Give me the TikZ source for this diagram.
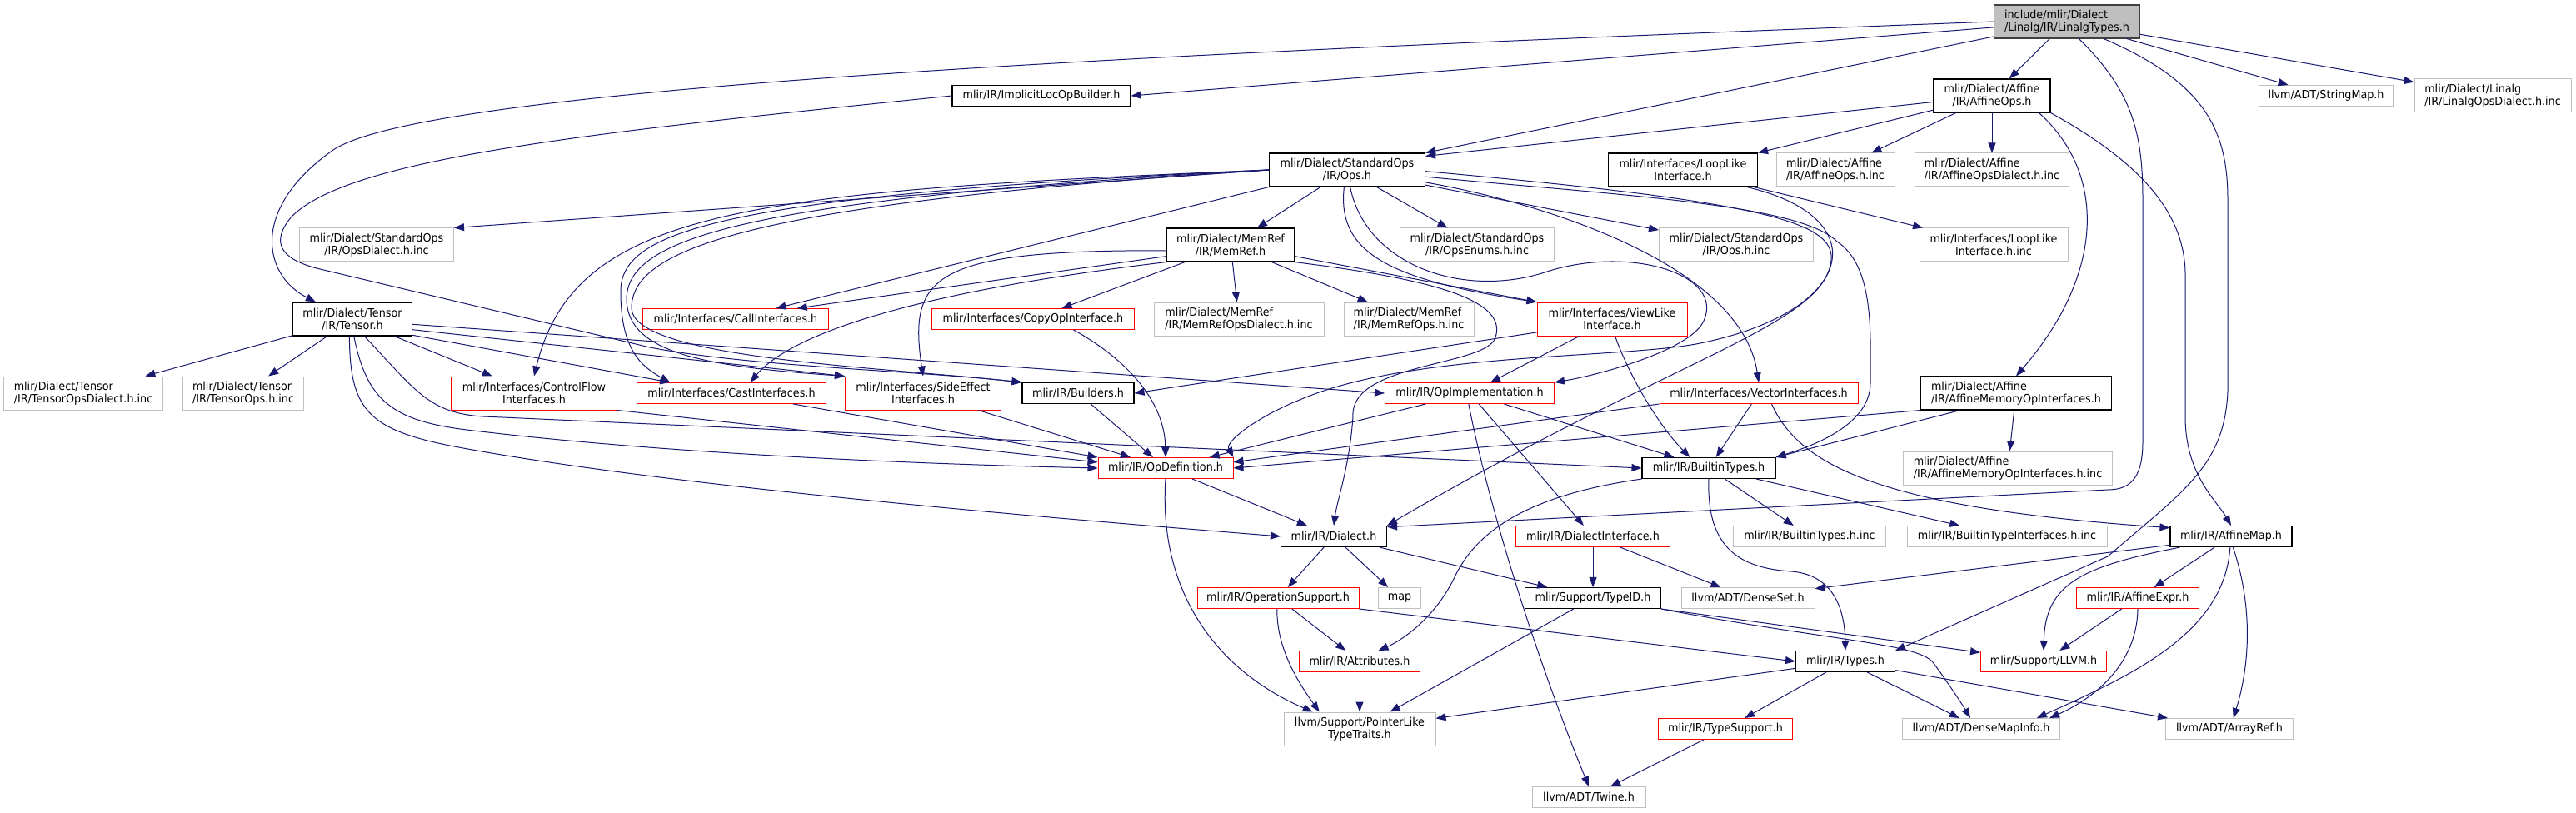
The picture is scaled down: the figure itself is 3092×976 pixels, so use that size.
\documentclass[tikz,border=0pt]{standalone}
\usepackage{fontspec}
\setmainfont{DejaVu Sans}[FakeStretch=0.93]
\usetikzlibrary{arrows.meta}
\definecolor{edgeblue}{RGB}{25,25,112}
\definecolor{leafgray}{RGB}{191,191,191}
\definecolor{cutred}{RGB}{255,0,0}

\begin{document}
\begin{tikzpicture}[
  x=1pt, y=-1pt,
  font=\fontsize{13.7}{15}\selectfont,
  box/.style={draw, rectangle, inner sep=0pt, align=center, minimum height=25pt},
  two/.style={minimum height=40pt},
  leaf/.style={box, draw=leafgray, line width=1pt},
  cut/.style={box, draw=cutred, line width=1pt},
  full/.style={box, draw=black, line width=1.1pt},
  arrow/.style={-{Triangle[length=12pt, width=9pt]}, edgeblue, line width=1pt}
]
\useasboundingbox (0,0) rectangle (3092,976);
\node[full, two, fill=leafgray, draw=black!75, align=left, minimum width=175pt] (root) at (2481, 26) {include/mlir/Dialect\\/Linalg/IR/LinalgTypes.h};
\node[full, two, minimum width=140pt] (affops) at (2391, 115) {mlir/Dialect/Affine\\/IR/AffineOps.h};
\node[leaf, minimum width=161pt] (strmap) at (2792, 115) {llvm/ADT/StringMap.h};
\node[leaf, two, align=left, minimum width=188pt] (linalgdi) at (2992, 115) {mlir/Dialect/Linalg\\/IR/LinalgOpsDialect.h.inc};
\node[full, minimum width=214pt] (implicit) at (1250, 115) {mlir/IR/ImplicitLocOpBuilder.h};
\node[full, two, minimum width=187pt] (stdops) at (1617, 204) {mlir/Dialect/StandardOps\\/IR/Ops.h};
\node[full, two, minimum width=179pt] (loopl) at (2020, 204) {mlir/Interfaces/LoopLike\\Interface.h};
\node[leaf, two, align=left, minimum width=142pt] (affopsinc) at (2203, 204) {mlir/Dialect/Affine\\/IR/AffineOps.h.inc};
\node[leaf, two, align=left, minimum width=185pt] (affdialinc) at (2391, 204) {mlir/Dialect/Affine\\/IR/AffineOpsDialect.h.inc};
\node[leaf, two, minimum width=185pt] (opsdialinc) at (452, 294) {mlir/Dialect/StandardOps\\/IR/OpsDialect.h.inc};
\node[full, two, minimum width=154pt] (memref) at (1477, 294) {mlir/Dialect/MemRef\\/IR/MemRef.h};
\node[leaf, two, minimum width=185pt] (opsenums) at (1773, 294) {mlir/Dialect/StandardOps\\/IR/OpsEnums.h.inc};
\node[leaf, two, minimum width=185pt] (opsinc) at (2084, 294) {mlir/Dialect/StandardOps\\/IR/Ops.h.inc};
\node[leaf, two, minimum width=178pt] (loopinc) at (2393, 294) {mlir/Interfaces/LoopLike\\Interface.h.inc};
\node[full, two, minimum width=143pt] (tensor) at (423, 383) {mlir/Dialect/Tensor\\/IR/Tensor.h};
\node[cut, minimum width=223pt] (callif) at (883, 383) {mlir/Interfaces/CallInterfaces.h};
\node[cut, minimum width=243pt] (copyop) at (1240, 383) {mlir/Interfaces/CopyOpInterface.h};
\node[leaf, two, align=left, minimum width=204pt] (mrdialinc) at (1487, 383) {mlir/Dialect/MemRef\\/IR/MemRefOpsDialect.h.inc};
\node[leaf, two, align=left, minimum width=156pt] (mropsinc) at (1691, 383) {mlir/Dialect/MemRef\\/IR/MemRefOps.h.inc};
\node[cut, two, minimum width=180pt] (viewlike) at (1935, 383) {mlir/Interfaces/ViewLike\\Interface.h};
\node[leaf, two, align=left, minimum width=191pt] (tensdialinc) at (100, 472) {mlir/Dialect/Tensor\\/IR/TensorOpsDialect.h.inc};
\node[leaf, two, align=left, minimum width=145pt] (tensopsinc) at (292, 472) {mlir/Dialect/Tensor\\/IR/TensorOps.h.inc};
\node[cut, two, minimum width=199pt] (ctrlflow) at (641, 472) {mlir/Interfaces/ControlFlow\\Interfaces.h};
\node[cut, minimum width=227pt] (castif) at (878, 472) {mlir/Interfaces/CastInterfaces.h};
\node[cut, two, minimum width=187pt] (sidefx) at (1108, 472) {mlir/Interfaces/SideEffect\\Interfaces.h};
\node[full, minimum width=134pt] (builders) at (1294, 472) {mlir/IR/Builders.h};
\node[cut, minimum width=203pt] (opimpl) at (1764, 472) {mlir/IR/OpImplementation.h};
\node[cut, minimum width=238pt] (vecif) at (2111, 472) {mlir/Interfaces/VectorInterfaces.h};
\node[full, two, align=left, minimum width=229pt] (affmem) at (2420, 472) {mlir/Dialect/Affine\\/IR/AffineMemoryOpInterfaces.h};
\node[cut, minimum width=162pt] (opdef) at (1399, 562) {mlir/IR/OpDefinition.h};
\node[full, minimum width=160pt] (builtin) at (2051, 562) {mlir/IR/BuiltinTypes.h};
\node[leaf, two, align=left, minimum width=251pt] (affmeminc) at (2410, 562) {mlir/Dialect/Affine\\/IR/AffineMemoryOpInterfaces.h.inc};
\node[full, minimum width=127pt] (dialect) at (1601, 644) {mlir/IR/Dialect.h};
\node[cut, minimum width=185pt] (dialif) at (1912, 644) {mlir/IR/DialectInterface.h};
\node[leaf, minimum width=183pt] (builtininc) at (2172, 644) {mlir/IR/BuiltinTypes.h.inc};
\node[leaf, minimum width=240pt] (btinterinc) at (2409, 644) {mlir/IR/BuiltinTypeInterfaces.h.inc};
\node[full, minimum width=146pt] (affmap) at (2678, 644) {mlir/IR/AffineMap.h};
\node[cut, minimum width=194pt] (opsupp) at (1534, 718) {mlir/IR/OperationSupport.h};
\node[leaf, minimum width=51pt] (map) at (1680, 718) {map};
\node[full, minimum width=163pt] (typeid) at (1912, 718) {mlir/Support/TypeID.h};
\node[leaf, minimum width=160pt] (denseset) at (2098, 718) {llvm/ADT/DenseSet.h};
\node[cut, minimum width=147pt] (affexpr) at (2566, 718) {mlir/IR/AffineExpr.h};
\node[cut, minimum width=145pt] (attrs) at (1632, 794) {mlir/IR/Attributes.h};
\node[full, minimum width=119pt] (types) at (2215, 794) {mlir/IR/Types.h};
\node[cut, minimum width=151pt] (llvmh) at (2453, 794) {mlir/Support/LLVM.h};
\node[leaf, two, minimum width=182pt] (ptrlike) at (1632, 875) {llvm/Support/PointerLike\\TypeTraits.h};
\node[cut, minimum width=161pt] (typesupp) at (2071, 875) {mlir/IR/TypeSupport.h};
\node[leaf, minimum width=189pt] (densemap) at (2378, 875) {llvm/ADT/DenseMapInfo.h};
\node[leaf, minimum width=153pt] (arrayref) at (2676, 875) {llvm/ADT/ArrayRef.h};
\node[leaf, minimum width=136pt] (twine) at (1907, 957) {llvm/ADT/Twine.h};
\draw[arrow] (root) -- (affops);
\draw[arrow] (root) -- (strmap);
\draw[arrow] (root) -- (linalgdi);
\draw[arrow] (root) -- (stdops.north east);
\draw[arrow] (root) -- (implicit.east);
\draw[arrow] (root.west) .. controls (1500,60) and (520,100) .. (400,180) .. controls (300,250) and (315,330) .. (tensor.155);
\draw[arrow] (root.-55) .. controls (2560,110) and (2572,160) .. (2572,240) -- (2572,530) .. controls (2572,570) and (2560,588) .. (2530,588) -- (dialect.10);
\draw[arrow] (root.-25) .. controls (2650,100) and (2674,160) .. (2674,240) -- (2674,470) .. controls (2670,560) and (2620,590) .. (2530,668) -- (types.north east);
\draw[arrow] (affops) -- (stdops.10);
\draw[arrow] (affops) -- (loopl.north east);
\draw[arrow] (affops) -- (affopsinc);
\draw[arrow] (affops) -- (affdialinc);
\draw[arrow] (affops.-20) .. controls (2530,210) and (2525,330) .. (affmem.north);
\draw[arrow] (affops.south east) .. controls (2560,190) and (2623,250) .. (2623,330) -- (2623,500) .. controls (2623,570) and (2660,600) .. (affmap.north);
\draw[arrow] (implicit.west) .. controls (700,160) and (420,190) .. (350,260) .. controls (325,290) and (335,310) .. (380,322) -- (780,417) .. controls (900,440) and (1100,445) .. (builders.north west);
\draw[arrow] (stdops.west) -- (opsdialinc.north east);
\draw[arrow] (stdops.west) .. controls (900,230) and (690,250) .. (ctrlflow.north);
\draw[arrow] (stdops.west) .. controls (850,235) and (745,280) .. (745,350) .. controls (745,420) and (770,440) .. (castif.170);
\draw[arrow] (stdops.west) .. controls (870,240) and (752,290) .. (752,360) .. controls (754,425) and (850,440) .. (sidefx.north west);
\draw[arrow] (stdops.west) .. controls (890,245) and (758,300) .. (758,370) .. controls (760,430) and (1050,440) .. (builders.north west);
\draw[arrow] (stdops.south west) -- (callif.15);
\draw[arrow] (stdops) -- (memref);
\draw[arrow] (stdops) -- (opsenums);
\draw[arrow] (stdops) -- (opsinc);
\draw[arrow] (stdops.-100) .. controls (1605,300) and (1660,335) .. (viewlike.north west);
\draw[arrow] (stdops.-80) .. controls (1640,320) and (1760,360) .. (1860,325) .. controls (1960,295) and (2070,330) .. (2045,385) .. controls (2030,420) and (1920,450) .. (opimpl.north east);
\draw[arrow] (stdops.-9) .. controls (1860,245) and (2090,320) .. (vecif.north);
\draw[arrow] (stdops.-5) .. controls (1950,235) and (2160,245) .. (2205,290) .. controls (2250,320) and (2245,400) .. (2245,460) .. controls (2245,515) and (2160,540) .. (builtin.north east);
\draw[arrow] (stdops.-1) .. controls (2150,245) and (2215,270) .. (2195,325) .. controls (2170,395) and (1990,440) .. (dialect.north east);
\draw[arrow] (loopl) -- (loopinc);
\draw[arrow] (loopl.-15) .. controls (2250,260) and (2230,370) .. (2050,410) .. controls (1960,432) and (1700,420) .. (1560,480) .. controls (1510,500) and (1470,530) .. (opdef.north east);
\draw[arrow] (memref) -- (copyop);
\draw[arrow] (memref) -- (mrdialinc);
\draw[arrow] (memref) -- (mropsinc);
\draw[arrow] (memref.190) -- (callif.10);
\draw[arrow] (memref.185) .. controls (1120,300) and (1090,330) .. (sidefx.north);
\draw[arrow] (memref.195) .. controls (1100,350) and (950,400) .. (castif.30);
\draw[arrow] (memref.-10) -- (viewlike.north west);
\draw[arrow] (memref.-15) .. controls (1720,335) and (1810,360) .. (1795,405) .. controls (1785,440) and (1620,435) .. (1624,500) .. controls (1620,560) and (1605,600) .. (dialect.north);
\draw[arrow] (tensor) -- (tensdialinc);
\draw[arrow] (tensor) -- (tensopsinc);
\draw[arrow] (tensor) -- (ctrlflow);
\draw[arrow] (tensor.-5) -- (opimpl.west);
\draw[arrow] (tensor.-10) -- (sidefx.north west);
\draw[arrow] (tensor.-15) -- (castif.170);
\draw[arrow] (tensor.-55) .. controls (500,470) and (515,496) .. (580,500) -- (builtin.west);
\draw[arrow] (tensor.-85) .. controls (440,480) and (470,505) .. (560,516) .. controls (800,545) and (1100,557) .. (opdef.west);
\draw[arrow] (tensor.-100) .. controls (420,490) and (440,515) .. (540,535) .. controls (800,585) and (1300,625) .. (dialect.west);
\draw[arrow] (ctrlflow.south east) -- (opdef.175);
\draw[arrow] (castif) -- (opdef.north west);
\draw[arrow] (sidefx) -- (opdef);
\draw[arrow] (builders) -- (opdef);
\draw[arrow] (copyop.-15) .. controls (1350,430) and (1398,480) .. (opdef.north);
\draw[arrow] (opimpl) -- (opdef);
\draw[arrow] (vecif.south west) -- (opdef.5);
\draw[arrow] (affmem.south west) -- (opdef.east);
\draw[arrow] (viewlike.190) -- (builders.east);
\draw[arrow] (viewlike) -- (opimpl);
\draw[arrow] (viewlike.-80) .. controls (1955,450) and (1990,510) .. (builtin.150);
\draw[arrow] (opimpl) -- (builtin);
\draw[arrow] (opimpl) -- (dialif);
\draw[arrow] (opimpl.-95) .. controls (1785,600) and (1840,780) .. (twine.north);
\draw[arrow] (vecif) -- (builtin);
\draw[arrow] (vecif.-40) .. controls (2160,560) and (2260,610) .. (affmap.172);
\draw[arrow] (affmem) -- (affmeminc);
\draw[arrow] (affmem.197) -- (builtin.north east);
\draw[arrow] (opdef) -- (dialect);
\draw[arrow] (opdef.south) .. controls (1390,710) and (1460,805) .. (ptrlike.160);
\draw[arrow] (builtin) -- (builtininc);
\draw[arrow] (builtin) -- (btinterinc);
\draw[arrow] (builtin.south) .. controls (2048,660) and (2090,682) .. (2150,686) .. controls (2200,690) and (2214,730) .. (types.north);
\draw[arrow] (builtin.south west) .. controls (1830,595) and (1770,640) .. (1745,695) .. controls (1720,745) and (1680,770) .. (attrs.30);
\draw[arrow] (dialect) -- (opsupp);
\draw[arrow] (dialect) -- (map);
\draw[arrow] (dialect) -- (typeid);
\draw[arrow] (dialif) -- (typeid);
\draw[arrow] (dialif) -- (denseset);
\draw[arrow] (opsupp) -- (attrs);
\draw[arrow] (opsupp.-95) .. controls (1532,775) and (1555,815) .. (ptrlike.157);
\draw[arrow] (opsupp.south east) -- (types.west);
\draw[arrow] (attrs) -- (ptrlike);
\draw[arrow] (typeid) -- (ptrlike);
\draw[arrow] (typeid.south east) -- (llvmh.172);
\draw[arrow] (typeid.south east) .. controls (2200,770) and (2300,772) .. (2320,795) .. controls (2335,815) and (2355,845) .. (densemap.135);
\draw[arrow] (types) -- (ptrlike);
\draw[arrow] (types) -- (typesupp);
\draw[arrow] (types) -- (densemap);
\draw[arrow] (types) -- (arrayref);
\draw[arrow] (typesupp) -- (twine);
\draw[arrow] (affmap.188) -- (denseset.8);
\draw[arrow] (affmap) -- (affexpr);
\draw[arrow] (affmap.-168) .. controls (2500,680) and (2455,700) .. (llvmh.north);
\draw[arrow] (affmap.-95) .. controls (2670,760) and (2560,810) .. (densemap.11);
\draw[arrow] (affmap.-80) .. controls (2705,730) and (2700,800) .. (arrayref.70);
\draw[arrow] (affexpr) -- (llvmh);
\draw[arrow] (affexpr.-90) .. controls (2565,800) and (2510,840) .. (densemap.9);
\end{tikzpicture}
\end{document}
